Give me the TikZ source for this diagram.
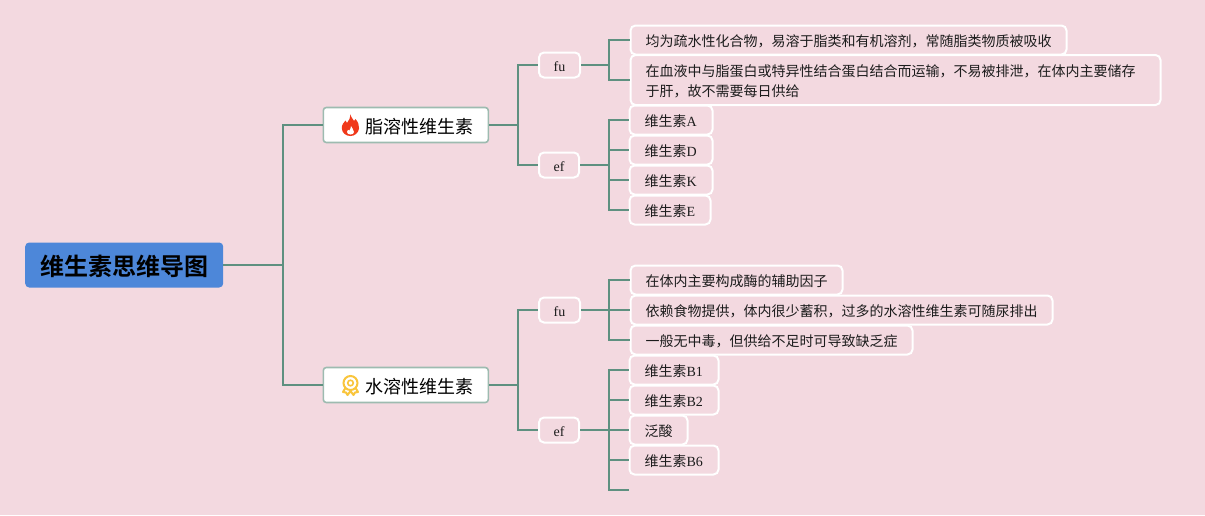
\documentclass[tikz,border=0pt]{standalone}
\usepackage{fontspec}
\setmainfont{Liberation Serif}
\newfontfamily\cjk{Noto Sans CJK SC}
\newfontfamily\cjkbold{Noto Sans CJK SC Bold}
\newcommand{\tx}[1]{\raisebox{-1.5pt}[\height][\depth]{#1}}
\definecolor{bgpink}{HTML}{F3D9E0}
\definecolor{linkgreen}{HTML}{5E9080}
\definecolor{rootblue}{HTML}{4D87D9}
\definecolor{inkdark}{HTML}{1C1C1C}
\definecolor{mainborder}{HTML}{9DBBB0}
\definecolor{flamered}{HTML}{F0391B}
\definecolor{medalyellow}{HTML}{F9C53C}
\tikzset{
  x=1pt,y=-1pt,
  link/.style={draw=linkgreen,line width=2.2pt},
  rootbox/.style={fill=rootblue,rounded corners=4pt,minimum width=198pt,minimum height=45pt,inner sep=0pt,text=black,font=\fontsize{24}{28}\selectfont\cjkbold,anchor=west},
  mainbox/.style={draw=mainborder,fill=white,line width=1.6pt,rounded corners=3pt,minimum width=165pt,minimum height=35pt,inner sep=0pt,text=black,font=\fontsize{18}{22}\selectfont\cjk,anchor=west},
  subbox/.style={draw=white,fill=bgpink,line width=2pt,rounded corners=5pt,minimum height=25pt,inner sep=0pt,text=inkdark,font=\fontsize{14}{18}\selectfont,anchor=west},
  leafbox/.style={draw=white,fill=bgpink,line width=2pt,rounded corners=5pt,inner xsep=15pt,inner ysep=0pt,align=left,text=inkdark,font=\fontsize{14}{20}\selectfont,anchor=west},
}
\begin{document}
\begin{tikzpicture}
\useasboundingbox (0,0) rectangle (1205,515);
\fill[bgpink] (0,0) rectangle (1205,515);
% bus coordinates
\coordinate (busRoot) at (283,265);
\coordinate (busFat) at (518,125);
\coordinate (busWater) at (518,385);
\coordinate (busFatFu) at (609,65);
\coordinate (busFatEf) at (609,165);
\coordinate (busWaterFu) at (609,310);
\coordinate (busWaterEf) at (609,430);
\coordinate (stubEnd) at (629,490);
% nodes
\node[rootbox] (root) at (25,265) {\tx{维生素思维导图}};
\node[mainbox] (fat) at (322.5,125) {\tx{\hspace*{28pt}脂溶性维生素}};
\node[mainbox] (water) at (322.5,385) {\tx{\hspace*{28pt}水溶性维生素}};
\node[subbox,minimum width=41pt] (fatFu) at (538,65) {\tx{fu}};
\node[subbox,minimum width=40pt] (fatEf) at (538,165) {\tx{ef}};
\node[subbox,minimum width=41pt] (waterFu) at (538,310) {\tx{fu}};
\node[subbox,minimum width=40pt] (waterEf) at (538,430) {\tx{ef}};
\node[leafbox,minimum height=29pt,text width=406pt] (f1) at (629.5,40) {\tx{\cjk 均为疏水性化合物，易溶于脂类和有机溶剂，常随脂类物质被吸收}};
\node[leafbox,minimum height=50pt,text width=500pt] (f2) at (629.5,80) {\tx{\parbox{500pt}{\cjk 在血液中与脂蛋白或特异性结合蛋白结合而运输，不易被排泄，在体内主要储存\\于肝，故不需要每日供给}}};
\node[leafbox,minimum height=29pt,text width=53pt] (e1) at (628.5,120) {\tx{{\cjk 维生素}A}};
\node[leafbox,minimum height=29pt,text width=53pt] (e2) at (628.5,150) {\tx{{\cjk 维生素}D}};
\node[leafbox,minimum height=29pt,text width=53pt] (e3) at (628.5,180) {\tx{{\cjk 维生素}K}};
\node[leafbox,minimum height=29pt,text width=51pt] (e4) at (628.5,210) {\tx{{\cjk 维生素}E}};
\node[leafbox,minimum height=29pt,text width=182pt] (w1) at (629.5,280) {\tx{\cjk 在体内主要构成酶的辅助因子}};
\node[leafbox,minimum height=29pt,text width=392pt] (w2) at (629.5,310) {\tx{\cjk 依赖食物提供，体内很少蓄积，过多的水溶性维生素可随尿排出}};
\node[leafbox,minimum height=29pt,text width=252pt] (w3) at (629.5,340) {\tx{\cjk 一般无中毒，但供给不足时可导致缺乏症}};
\node[leafbox,minimum height=29pt,text width=59pt] (v1) at (628.5,370) {\tx{{\cjk 维生素}B1}};
\node[leafbox,minimum height=29pt,text width=59pt] (v2) at (628.5,400) {\tx{{\cjk 维生素}B2}};
\node[leafbox,minimum height=29pt,text width=28pt] (v3) at (628.5,430) {\tx{\cjk 泛酸}};
\node[leafbox,minimum height=29pt,text width=59pt] (v4) at (628.5,460) {\tx{{\cjk 维生素}B6}};
% connectors
\draw[link] (root.east) -- (busRoot);
\draw[link] (busRoot) |- (fat.west);
\draw[link] (busRoot) |- (water.west);
\draw[link] (fat.east) -- (busFat);
\draw[link] (busFat) |- (fatFu.west);
\draw[link] (busFat) |- (fatEf.west);
\draw[link] (water.east) -- (busWater);
\draw[link] (busWater) |- (waterFu.west);
\draw[link] (busWater) |- (waterEf.west);
\draw[link] (fatFu.east) -- (busFatFu);
\draw[link] (busFatFu) |- (f1.west);
\draw[link] (busFatFu) |- (f2.west);
\draw[link] (fatEf.east) -- (busFatEf);
\foreach \t in {e1,e2,e3,e4} \draw[link] (busFatEf) |- (\t.west);
\draw[link] (waterFu.east) -- (busWaterFu);
\foreach \t in {w1,w2,w3} \draw[link] (busWaterFu) |- (\t.west);
\draw[link] (waterEf.east) -- (busWaterEf);
\foreach \t in {v1,v2,v3,v4} \draw[link] (busWaterEf) |- (\t.west);
\draw[link] (busWaterEf) |- (stubEnd);
% flame icon
\fill[flamered] (350,114) .. controls (351.5,118) and (353,119) .. (354,121)
  .. controls (355,120.5) and (355.5,120) .. (355.5,119)
  .. controls (358,122) and (359.5,125) .. (359,128.5)
  .. controls (358.5,133) and (354.5,136) .. (350.5,136)
  .. controls (346,136) and (342,133) .. (341.8,128.5)
  .. controls (341.5,124.5) and (344,122.5) .. (345.5,120.5)
  .. controls (346,122) and (346.5,122.5) .. (347,123)
  .. controls (349,120.5) and (350.5,118) .. (350,114) -- cycle;
\fill[white] (351,126) .. controls (351.5,128) and (354,129.5) .. (354,132)
  .. controls (354,133.5) and (352.5,134.5) .. (350.5,134.5)
  .. controls (348.5,134.5) and (347,133.5) .. (347,132)
  .. controls (347,131) and (347.5,130.2) .. (348,129.8)
  .. controls (348.5,130.2) and (349,130.4) .. (349.4,130.5)
  .. controls (350.5,129) and (351,127.5) .. (351,126) -- cycle;
% medal icon
\draw[medalyellow,line width=2pt,fill=white,line join=round] (343,392) -- (346,387) -- (350.5,390) -- (355,387) -- (358,392) -- (355,392.5) -- (353.5,395) -- (350.5,391) -- (347.5,395) -- (346,392.5) -- cycle;
\draw[medalyellow,line width=2pt,fill=white] (350.5,383) circle[radius=7pt];
\draw[medalyellow,line width=1.6pt] (350.5,383) circle[radius=2.8pt];
\end{tikzpicture}
\end{document}
